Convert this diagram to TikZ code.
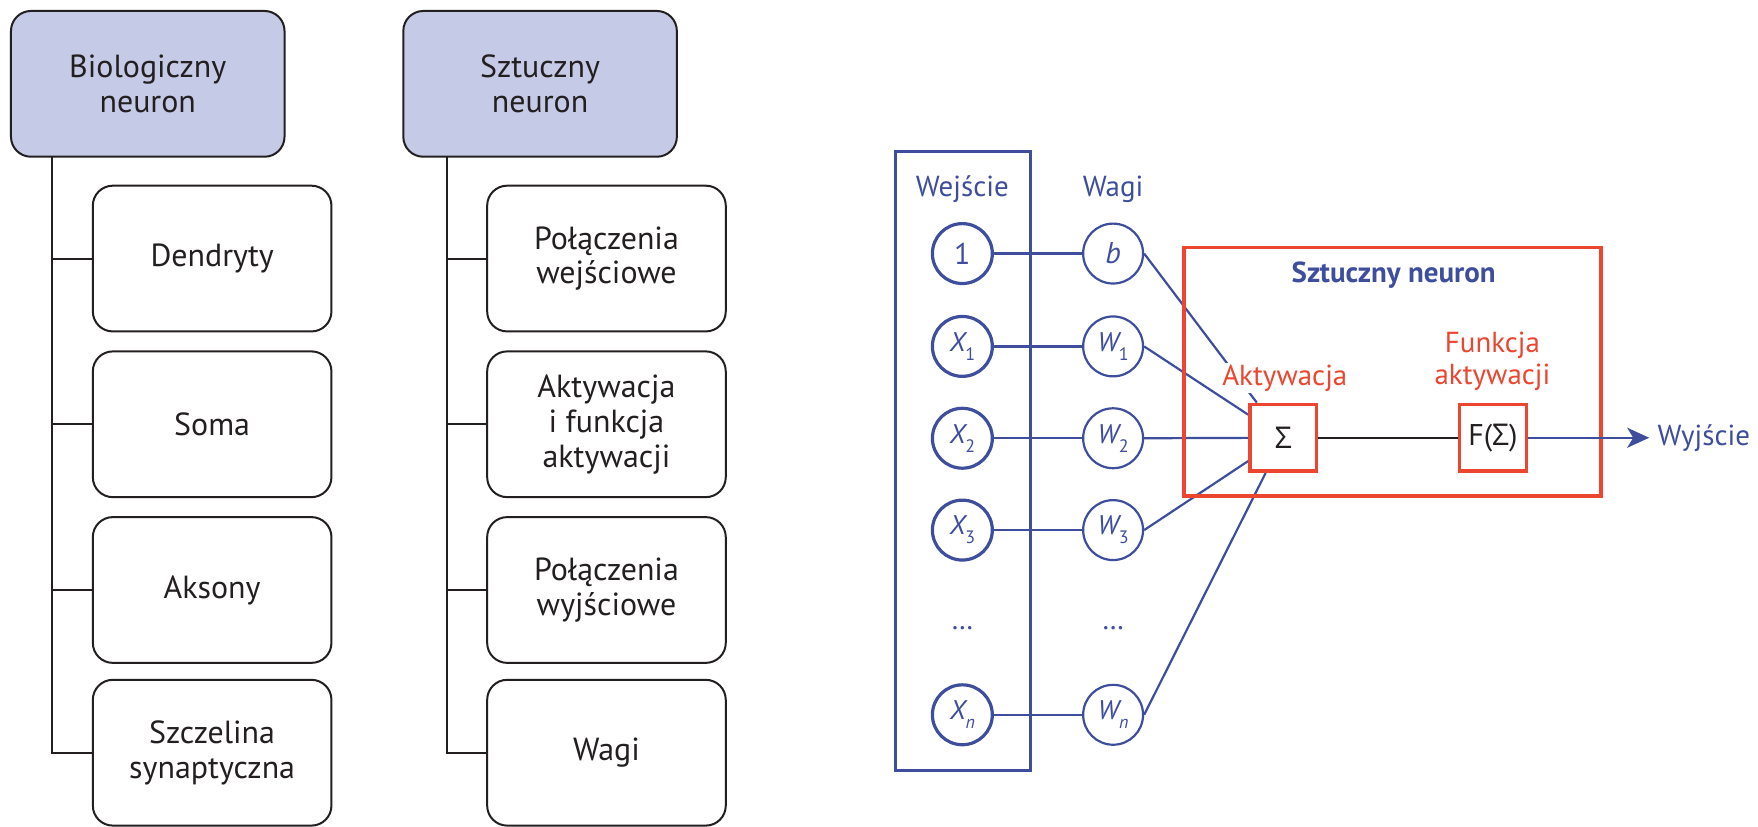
\documentclass[tikz,border=0pt]{standalone}
\usepackage{fontspec}
\setmainfont{PT Sans}
\newfontfamily\grk{Open Sans}
\usetikzlibrary{arrows.meta}

\definecolor{nblue}{RGB}{62,78,156}
\definecolor{nred}{RGB}{236,70,48}
\definecolor{headfill}{RGB}{197,202,230}
\definecolor{ink}{RGB}{35,31,32}

% italic variable letter with a lowered index
\newcommand\vsym[2]{{\itshape\fontsize{13.5}{13.5}\selectfont #1}\raisebox{-0.6ex}{\fontsize{9}{9}\selectfont #2}}

\pgfdeclarelayer{back}
\pgfdeclarelayer{wires}
\pgfsetlayers{back,wires,main}

\begin{document}
\begin{tikzpicture}[x=0.5pt,y=-0.5pt,
  treehead/.style={draw=ink, line width=1pt, fill=headfill, rounded corners=10pt,
    minimum width=137pt, minimum height=73pt, align=center, text=ink,
    font=\fontsize{16}{17.5}\selectfont},
  treeitem/.style={draw=ink, line width=1pt, fill=white, rounded corners=10pt,
    minimum width=119.5pt, minimum height=73pt, align=center, text=ink,
    font=\fontsize{16}{17.5}\selectfont},
  branch/.style={draw=ink, line width=1pt},
  innode/.style={circle, draw=nblue, line width=1.6pt, minimum size=30pt, inner sep=0pt,
    text=nblue, font=\fontsize{15}{15}\selectfont},
  wnode/.style={innode, line width=1.1pt},
  bluetext/.style={text=nblue, font=\fontsize{14.5}{16}\selectfont},
  redtext/.style={text=nred, font=\fontsize{14.5}{16}\selectfont, align=center},
  wire/.style={draw=nblue, line width=1.1pt},
  opbox/.style={draw=nred, line width=1.7pt, fill=white, minimum size=33.5pt, inner sep=0pt,
    text=ink, font=\fontsize{15}{15}\selectfont}
]
\begin{pgfonlayer}{back}
\path[use as bounding box, fill=white] (0,0) rectangle (1758,828);
\end{pgfonlayer}

% ---------- biological neuron tree ----------
\node[treehead] (bio) at (148,84) {Biologiczny\\neuron};
\node[treeitem] (bio1) at (212.5,259) {Dendryty};
\node[treeitem] (bio2) at (212.5,425) {Soma};
\node[treeitem] (bio3) at (212.5,591) {Aksony};
\node[treeitem] (bio4) at (212.5,754) {Szczelina\\synaptyczna};
\coordinate (bioT) at (52,157);
\draw[branch] (bioT) |- (bio4.west);
\foreach \k in {1,2,3}{\draw[branch] (bio\k.west) -- (bio\k.west -| bioT);}

% ---------- artificial neuron tree ----------
\node[treehead] (art) at (541,84) {Sztuczny\\neuron};
\node[treeitem] (art1) at (607.5,259) {Połączenia\\wejściowe};
\node[treeitem] (art2) at (607.5,425) {Aktywacja\\i funkcja\\aktywacji};
\node[treeitem] (art3) at (607.5,591) {Połączenia\\wyjściowe};
\node[treeitem] (art4) at (607.5,754) {Wagi};
\coordinate (artT) at (448,157);
\draw[branch] (artT) |- (art4.west);
\foreach \k in {1,2,3}{\draw[branch] (art\k.west) -- (art\k.west -| artT);}

% ---------- inputs and weights ----------
\node[draw=nblue, line width=1.6pt, minimum width=67.5pt, minimum height=310pt] (inbox) at (964.5,462) {};
\node[bluetext, anchor=base] (inlabel) at (964,197) {Wejście};
\node[bluetext, anchor=base] (wlabel) at (1115,197) {Wagi};

\node[innode] (x0) at (964,254) {1};
\node[innode] (x1) at (964,347) {\vsym{X}{1}};
\node[innode] (x2) at (964,439) {\vsym{X}{2}};
\node[innode] (x3) at (964,531) {\vsym{X}{3}};
\node[innode] (xn) at (964,716) {\vsym{X}{\itshape n}};
\node[bluetext, anchor=base] (xdots) at (964,631) {\dots};

\node[wnode] (w0) at (1115,254) {\itshape b};
\node[wnode] (w1) at (1115,347) {\vsym{W}{1}};
\node[wnode] (w2) at (1115,439) {\vsym{W}{2}};
\node[wnode] (w3) at (1115,531) {\vsym{W}{3}};
\node[wnode] (wn) at (1115,716) {\vsym{W}{\itshape n}};
\node[bluetext, anchor=base] (wdots) at (1115,631) {\dots};

% ---------- neuron body ----------
\node[draw=nred, line width=1.9pt, minimum width=209pt, minimum height=124.5pt] (body) at (1395,372.5) {};
\node[text=nblue, font=\fontsize{14.5}{16}\selectfont\bfseries, anchor=base] (bodylabel) at (1396,283) {Sztuczny neuron};
\node[opbox] (sum) at (1285.5,438.5) {{\grk Σ}};
\node[opbox] (act) at (1495.5,438.5) {F({\grk Σ})};
\node[redtext, fill=white, inner sep=1pt, anchor=base] (sumlabel) at (1287,386) {Aktywacja};
\node[redtext] (actlabel) at (1495,362) {Funkcja\\aktywacji};
\node[bluetext, anchor=west, inner xsep=4pt, inner ysep=0pt] (out) at (1652,439) {Wyjście};

\begin{pgfonlayer}{wires}
\foreach \k in {0,1,2,3,n}{
  \draw[wire] (x\k.east) -- (w\k.west);
  \draw[wire] (w\k.east) -- (sum);
}
\end{pgfonlayer}
\draw[draw=ink, line width=1.1pt] (sum.east) -- (act.west);
\draw[wire, -{Stealth[length=11pt,width=10pt,inset=3pt]}] (act.east) -- (act.east -| out.west);
\end{tikzpicture}
\end{document}
